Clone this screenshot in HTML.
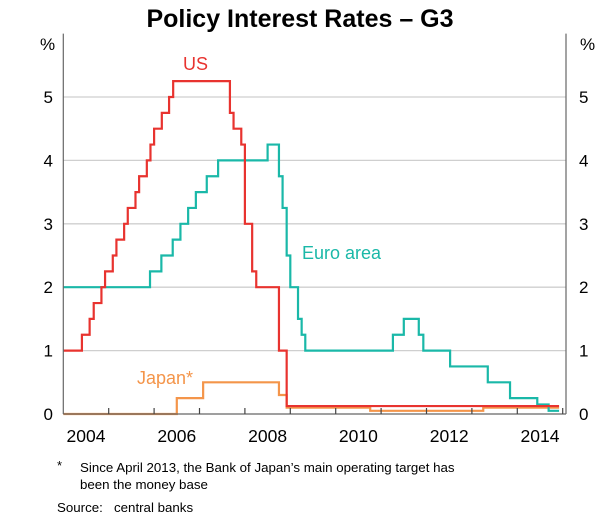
<!DOCTYPE html>
<html><head><meta charset="utf-8"><style>
body{margin:0;background:#fff;}
svg text{font-family:"Liberation Sans",Arial,sans-serif;}
</style></head><body>
<svg width="600" height="517" viewBox="0 0 600 517" xmlns="http://www.w3.org/2000/svg">
<text x="300" y="27" text-anchor="middle" font-size="25" font-weight="bold" fill="#000">Policy Interest Rates – G3</text>
<g id="grid"></g>
<g id="series"></g>
<g id="axes"></g>
<text x="137" y="384" font-size="18" fill="#f4954a">Japan*</text>
<text x="183" y="70" font-size="18" fill="#e8332f">US</text>
<text x="302" y="259" font-size="18" fill="#1ab8a8">Euro area</text>
<text x="57" y="470" font-size="13" fill="#000">*</text>
<text x="80" y="472" font-size="13.3" fill="#000">Since April 2013, the Bank of Japan’s main operating target has</text>
<text x="80" y="489" font-size="13.3" fill="#000">been the money base</text>
<text x="57" y="512" font-size="13.3" fill="#000">Source:</text>
<text x="114" y="512" font-size="13.3" fill="#000">central banks</text>
</svg>
<script>
const usDates=[2004.0,2004.41,2004.58,2004.67,2004.84,2004.92,2005.09,2005.17,2005.34,2005.42,2005.59,2005.67,2005.84,2005.92,2006.0,2006.17,2006.33,2006.42,2007.67,2007.75,2007.92,2008.0,2008.16,2008.25,2008.75,2008.92];
const usValues=[1.0,1.25,1.5,1.75,2.0,2.25,2.5,2.75,3.0,3.25,3.5,3.75,4.0,4.25,4.5,4.75,5.0,5.25,4.75,4.5,4.25,3.0,2.25,2.0,1.0,0.125];
const euroDates=[2004.0,2005.91,2006.16,2006.41,2006.58,2006.75,2006.92,2007.16,2007.41,2008.5,2008.75,2008.83,2008.92,2009.0,2009.17,2009.25,2009.33,2011.26,2011.5,2011.83,2011.93,2012.52,2013.35,2013.84,2014.44,2014.69];
const euroValues=[2.0,2.25,2.5,2.75,3.0,3.25,3.5,3.75,4.0,4.25,3.75,3.25,2.5,2.0,1.5,1.25,1.0,1.25,1.5,1.25,1.0,0.75,0.5,0.25,0.15,0.05];
const japanDates=[2004.0,2006.5,2007.08,2008.75,2008.92,2010.76,2013.25];
const japanValues=[0.0,0.25,0.5,0.3,0.1,0.05,0.1];
const endDate=2014.92;
const yTicks=[0,1,2,3,4,5];
const xLabels=[2004,2006,2008,2010,2012,2014];
const xTickYears=[2005,2006,2007,2008,2009,2010,2011,2012,2013,2014,2015];

const L=63.3,R=566,T=33.6,B=414,x0=2004,pxYr=45.4,pxUnit=63.4;
const xs=t=>L+(t-x0)*pxYr;
const ys=v=>B-v*pxUnit;
const NS='http://www.w3.org/2000/svg';
function mk(tag,attrs,parent){const e=document.createElementNS(NS,tag);for(const k in attrs)e.setAttribute(k,attrs[k]);parent.appendChild(e);return e;}
const grid=document.getElementById('grid'),axes=document.getElementById('axes'),ser=document.getElementById('series');
yTicks.forEach(v=>{
 if(v>0){const g=mk('line',{x1:L,x2:R,y1:ys(v),y2:ys(v),stroke:'#cfcfcf','stroke-width':1.3},grid);
 
 }
 const a=mk('text',{x:53,y:ys(v)+6,'text-anchor':'end','font-size':17,fill:'#000'},axes);a.textContent=v;
 
 
 const b=mk('text',{x:579,y:ys(v)+6,'font-size':17,fill:'#000'},axes);b.textContent=v;
 
 
});
['%','%'].forEach((p,i)=>{const t=mk('text',{x:i?580:40,y:50,'font-size':17,fill:'#000'},axes);t.textContent=p;
 
 });
function stepPath(d,v,color,name){
 let p='M'+xs(d[0])+','+ys(v[0]);
 for(let i=1;i<d.length;i++){p+=' H'+xs(d[i])+' V'+ys(v[i]);}
 p+=' H'+xs(endDate);
 const e=mk('path',{d:p,fill:'none',stroke:color,'stroke-width':2.2},ser);
 
 
}
stepPath(japanDates,japanValues,'#f4954a','japan-line');
stepPath(euroDates,euroValues,'#1ab8a8','euro-area-line');
stepPath(usDates,usValues,'#e8332f','us-line');
[[L,T,L,B],[R,T,R,B],[L,B,R,B]].forEach((c,i)=>{const e=mk('line',{x1:c[0],y1:c[1],x2:c[2],y2:c[3],stroke:'#666','stroke-width':1.2},axes);
 
 });
xTickYears.forEach(y=>{const e=mk('line',{x1:xs(y),x2:xs(y),y1:B,y2:B-6,stroke:'#444','stroke-width':1.2},axes);
 
 });
xLabels.forEach(y=>{const t=mk('text',{x:xs(y+0.5),y:442,'text-anchor':'middle','font-size':17.5,fill:'#000'},axes);t.textContent=y;
 
 });
</script>
</body></html>
